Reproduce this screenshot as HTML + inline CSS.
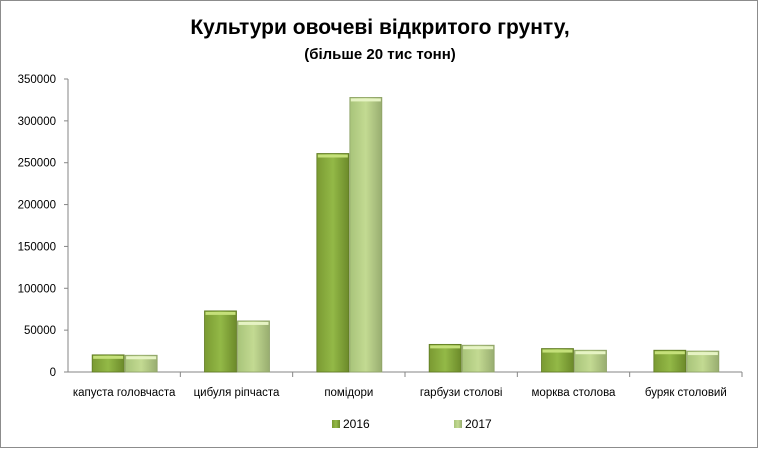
<!DOCTYPE html>
<html><head><meta charset="utf-8"><style>
body{margin:0;background:#fff}
svg{display:block;font-family:"Liberation Sans",Arial,sans-serif}
</style></head><body>
<svg id="chart" width="759" height="449">
<defs>
<linearGradient id="g16" x1="0" y1="0" x2="1" y2="0"><stop offset="0" stop-color="#7a9a32"/><stop offset="0.5" stop-color="#93b947"/><stop offset="1" stop-color="#6c8a2a"/></linearGradient>
<linearGradient id="g17" x1="0" y1="0" x2="1" y2="0"><stop offset="0" stop-color="#a8c47a"/><stop offset="0.5" stop-color="#c3da92"/><stop offset="1" stop-color="#98ad70"/></linearGradient>
</defs>
<rect x="0.5" y="0.5" width="757" height="447" fill="#fff" stroke="#8c8c8c"/>
<text x="380" y="34" text-anchor="middle" font-size="21" font-weight="bold">Культури овочеві відкритого грунту,</text>
<text x="380" y="59" text-anchor="middle" font-size="15" font-weight="bold">(більше 20 тис тонн)</text>
<g id="plot"></g>
<g>
<rect x="332" y="420" width="8" height="8" fill="url(#g16)"/>
<text x="343" y="428" font-size="12">2016</text>
<rect x="454" y="420" width="8" height="8" fill="url(#g17)"/>
<text x="465" y="428" font-size="12">2017</text>
</g>
</svg>
<script>
const categories=["капуста головчаста","цибуля ріпчаста","помідори","гарбузи столові","морква столова","буряк столовий"];
const series2016=[20500,73000,261000,33000,28000,26000];
const series2017=[20000,61000,328000,32000,26000,25000];
const yTicks=[0,50000,100000,150000,200000,250000,300000,350000];
const NS="http://www.w3.org/2000/svg";
const g=document.getElementById('plot');
const x0=68,x1=742,yBase=372,yTop=79,yMax=350000;
const y=v=>yBase-(v/yMax)*(yBase-yTop);
const cw=(x1-x0)/categories.length;
function mk(t,a){const e=document.createElementNS(NS,t);for(const k in a)e.setAttribute(k,a[k]);g.appendChild(e);return e;}
const ya=mk('line',{x1:x0,y1:yTop,x2:x0,y2:yBase,stroke:'#868686'});


yTicks.forEach(v=>{
 const tk=mk('line',{x1:x0-4,y1:y(v),x2:x0,y2:y(v),stroke:'#868686'});
 
 
 const t=mk('text',{x:x0-12,y:y(v)+4,'text-anchor':'end','font-size':'11.5'});
 t.textContent=v;
 
 
});
const xa=mk('line',{x1:x0,y1:yBase,x2:x1,y2:yBase,stroke:'#868686'});


categories.forEach((c,i)=>{
 const cx=x0+cw*(i+0.5);
 const tk=mk('line',{x1:x0+cw*(i+1),y1:yBase,x2:x0+cw*(i+1),y2:yBase+5,stroke:'#868686'});
 
 
 [[series2016[i],cx-32,'url(#g16)','#5f7a22','#c5e07a','bar-2016'],[series2017[i],cx+1,'url(#g17)','#8ea266','#e6f3c4','bar-2017']].forEach(([v,bx,f,st,hi,nm])=>{
  const r=mk('rect',{x:bx,y:y(v),width:32,height:yBase-y(v),fill:f,stroke:st,'stroke-width':'0.8'});
  
  
  const h=mk('rect',{x:bx+1,y:y(v)+1,width:30,height:3,fill:hi});
  
  
 });
 const t=mk('text',{x:cx,y:396,'text-anchor':'middle','font-size':'11.5'});
 t.textContent=c;
 
 
});
</script>
</body></html>
